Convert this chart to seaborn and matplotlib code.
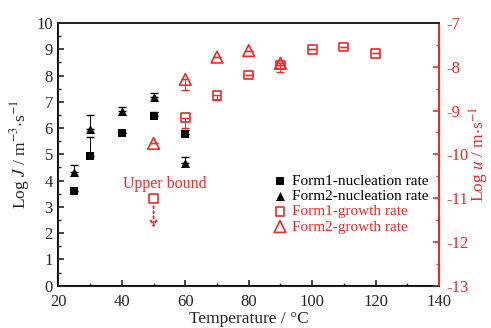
import matplotlib
matplotlib.use('Agg')
import matplotlib.pyplot as plt
import seaborn as sns
import numpy as np
import pandas as pd
from matplotlib.ticker import MultipleLocator

# nucleation rate (left axis, Log J)
t_nuc = [25, 30, 40, 50, 60]
form1_nuc = [3.6, 4.93, 5.8, 6.46, 5.79]
form1_nuc_err = [0.0, 0.72, 0.0, 0.15, 0.15]
form2_nuc = [4.32, 5.95, 6.65, 7.17, 4.66]
form2_nuc_err = [0.28, 0.55, 0.17, 0.18, 0.23]

# growth rate (right axis, Log u)
t_gr1 = [60, 70, 80, 90, 100, 110, 120]
form1_gr = [-9.16, -8.65, -8.19, -7.96, -7.6, -7.55, -7.69]
form1_gr_err = [0.24, 0.12, 0.0, 0.0, 0.0, 0.0, 0.0]
t_gr2 = [50, 60, 70, 80, 90]
form2_gr = [-9.75, -8.29, -7.78, -7.63, -7.92]
form2_gr_err = [0.0, 0.24, 0.0, 0.0, 0.19]

# upper bound point for form1 growth at 50 C
ub_t = 50
ub_val = -11.0
ub_arrow_end = -11.75

red = '#f02828'

sns.set_style('ticks')
plt.rcParams['font.family'] = ['Liberation Serif', 'DejaVu Serif']
plt.rcParams['mathtext.fontset'] = 'stix'
plt.rcParams['axes.unicode_minus'] = False
plt.rcParams['xtick.direction'] = 'in'
plt.rcParams['ytick.direction'] = 'in'

fig = plt.figure(figsize=(4.91, 3.28), dpi=100)
ax = fig.add_axes([0.119, 0.129, 0.775, 0.801])
ax2 = ax.twinx()

# error bars (one-sided)
ax.errorbar(t_nuc, form1_nuc, yerr=[np.zeros(5), form1_nuc_err], fmt='none',
            ecolor='black', elinewidth=0.7, capsize=3, zorder=2)
ax.errorbar(t_nuc, form2_nuc, yerr=[np.zeros(5), form2_nuc_err], fmt='none',
            ecolor='black', elinewidth=0.7, capsize=3, zorder=2)
ax2.errorbar(t_gr1, form1_gr, yerr=[form1_gr_err, np.zeros(7)], fmt='none',
             ecolor=red, elinewidth=0.7, capsize=3, zorder=2)
ax2.errorbar(t_gr2, form2_gr, yerr=[form2_gr_err, np.zeros(5)], fmt='none',
             ecolor=red, elinewidth=0.7, capsize=3, zorder=2)

sns.scatterplot(x=t_nuc, y=form1_nuc, marker='s', color='black', s=28,
                edgecolor='black', linewidth=0, label='Form1-nucleation rate', ax=ax, zorder=3)
sns.scatterplot(x=t_nuc, y=form2_nuc, marker='^', color='black', s=42,
                edgecolor='black', linewidth=0, label='Form2-nucleation rate', ax=ax, zorder=3)
sns.scatterplot(x=t_gr1 + [ub_t], y=form1_gr + [ub_val], marker='s', color=red,
                facecolor='none', edgecolor=red, s=40, linewidth=1.2,
                label='Form1-growth rate', ax=ax2, zorder=3)
sns.scatterplot(x=t_gr2, y=form2_gr, marker='^', color=red, facecolor='none',
                edgecolor=red, s=70, linewidth=1.2, label='Form2-growth rate', ax=ax2, zorder=3)

ax2.annotate('', xy=(ub_t, ub_arrow_end), xytext=(ub_t, ub_val - 0.12),
             arrowprops=dict(arrowstyle='->', color=red, lw=1.4, linestyle=':'))
ax.text(53.5, 3.87, 'Upper bound', color=red, fontsize=11.5, ha='center', va='center')

ax.set_xlim(20, 140)
ax.set_ylim(0, 10)
ax2.set_ylim(-13, -7)
ax.xaxis.set_major_locator(MultipleLocator(20))
ax.xaxis.set_minor_locator(MultipleLocator(10))
ax.yaxis.set_major_locator(MultipleLocator(1))
ax.yaxis.set_minor_locator(MultipleLocator(0.5))
ax2.yaxis.set_major_locator(MultipleLocator(1))
ax2.yaxis.set_minor_locator(MultipleLocator(0.5))

ax.tick_params(axis='both', which='major', length=4, width=1.2, labelsize=12)
ax.tick_params(axis='x', which='major', pad=6)
ax.tick_params(axis='y', which='major', pad=4)
ax.tick_params(axis='both', which='minor', length=2.5, width=1.0)
ax.tick_params(axis='x', top=False, which='both')
ax.tick_params(axis='y', right=False, which='both')
ax2.tick_params(axis='y', which='major', length=4, width=1.2, labelsize=12,
                colors=red, pad=5)
ax2.tick_params(axis='y', which='minor', length=2.5, width=1.0, colors=red)

for sp in ['left', 'bottom', 'top']:
    ax.spines[sp].set_linewidth(1.4)
    ax.spines[sp].set_color('black')
ax2.spines['right'].set_color(red)
ax2.spines['right'].set_linewidth(1.4)
ax2.spines['top'].set_linewidth(1.4)

ax.set_xlabel('Temperature / \u00b0C', fontsize=12.5, labelpad=1)
ax.set_ylabel(r'Log $\it{J}$ / m$^{-3}$$\cdot$s$^{-1}$', fontsize=12.5, labelpad=3)
ax2.set_ylabel(r'Log $\it{u}$ / m$\cdot$s$^{-1}$', fontsize=12.5, color=red, labelpad=0)

h1, l1 = ax.get_legend_handles_labels()
h2, l2 = ax2.get_legend_handles_labels()
if ax.get_legend():
    ax.get_legend().remove()
leg = ax2.legend(h1 + h2, l1 + l2, loc='upper left', bbox_to_anchor=(0.53, 0.465),
                 frameon=False, fontsize=11, handletextpad=0.2, labelspacing=0.1,
                 handlelength=1.2, borderpad=0.2)
for txt, c in zip(leg.get_texts(), ['black', 'black', red, red]):
    txt.set_color(c)

fig.savefig('out.png', dpi=100)
